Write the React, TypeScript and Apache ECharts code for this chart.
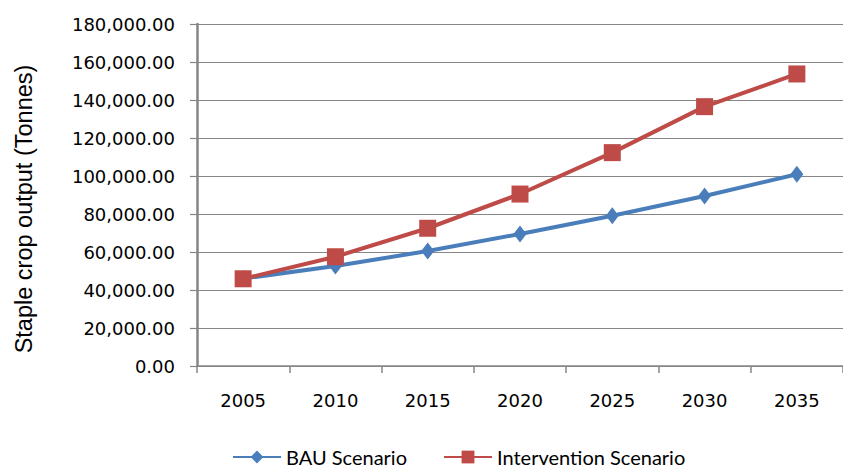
import React, { useEffect, useRef } from "react";
import * as echarts from "echarts";

const years = ["2005", "2010", "2015", "2020", "2025", "2030", "2035"];
const bauValues = [46000, 52600, 60500, 69500, 79100, 89500, 100900];
const interventionValues = [45900, 57500, 72500, 90500, 112300, 136500, 153700];
const yMin = 0;
const yMax = 180000;
const yStep = 20000;
const yTitle = "Staple crop output (Tonnes)";
const seriesNames = ["BAU Scenario", "Intervention Scenario"];

function fmt(v: number): string {
  return v.toLocaleString("en-US", { minimumFractionDigits: 2, maximumFractionDigits: 2 });
}

export default function App() {
  const ref = useRef<HTMLDivElement>(null);
  useEffect(() => {
    if (!ref.current) return;
    const chart = echarts.init(ref.current, undefined, { renderer: "svg" });
    chart.setOption({
      animation: false,
      backgroundColor: "#ffffff",
      grid: { left: 197, right: -9, top: 24, bottom: 103, containLabel: false },
      legend: {
        left: 232,
        top: 447,
        padding: 0,
        itemWidth: 48,
        itemHeight: 16,
        itemGap: 36,
        textStyle: { fontFamily: "Lato", fontSize: 20, lineHeight: 20, color: "#000" },
        data: seriesNames,
      },
      graphic: [
        {
          type: "text",
          x: 24,
          y: 209,
          rotation: Math.PI / 2,
          style: {
            text: yTitle,
            fontFamily: "Liberation Sans",
            fontSize: 23.5,
            fill: "#000",
            align: "center",
            verticalAlign: "middle",
          },
        },
      ],
      xAxis: {
        type: "category",
        data: years,
        boundaryGap: true,
        axisLine: { lineStyle: { color: "#868686", width: 1.5 } },
        axisTick: { show: true, length: 7, lineStyle: { color: "#868686", width: 1.5 } },
        axisLabel: { margin: 25, fontFamily: "DejaVu Sans", fontSize: 18, color: "#000" },
        splitLine: { show: false },
      },
      yAxis: {
        type: "value",
        min: yMin,
        max: yMax,
        interval: yStep,
        axisLine: { show: true, lineStyle: { color: "#868686", width: 2.5 } },
        axisTick: { show: true, length: 7, lineStyle: { color: "#868686", width: 1.2 } },
        axisLabel: {
          margin: 22,
          fontFamily: "DejaVu Sans",
          fontSize: 18,
          color: "#000",
          formatter: (v: number) => fmt(v),
        },
        splitLine: { show: true, lineStyle: { color: "#868686", width: 1.2 } },
      },
      series: [
        {
          name: seriesNames[0],
          type: "line",
          data: bauValues,
          symbol: "diamond",
          symbolSize: [13, 17],
          lineStyle: { color: "#4a7ebb", width: 4 },
          itemStyle: { color: "#4a7ebb" },
        },
        {
          name: seriesNames[1],
          type: "line",
          data: interventionValues,
          symbol: "rect",
          symbolSize: 17,
          lineStyle: { color: "#be4b48", width: 4 },
          itemStyle: { color: "#be4b48" },
        },
      ],
    });
    return () => chart.dispose();
  }, []);
  return <div ref={ref} style={{ width: 843, height: 469, position: "absolute", left: 0, top: 0 }} />;
}
